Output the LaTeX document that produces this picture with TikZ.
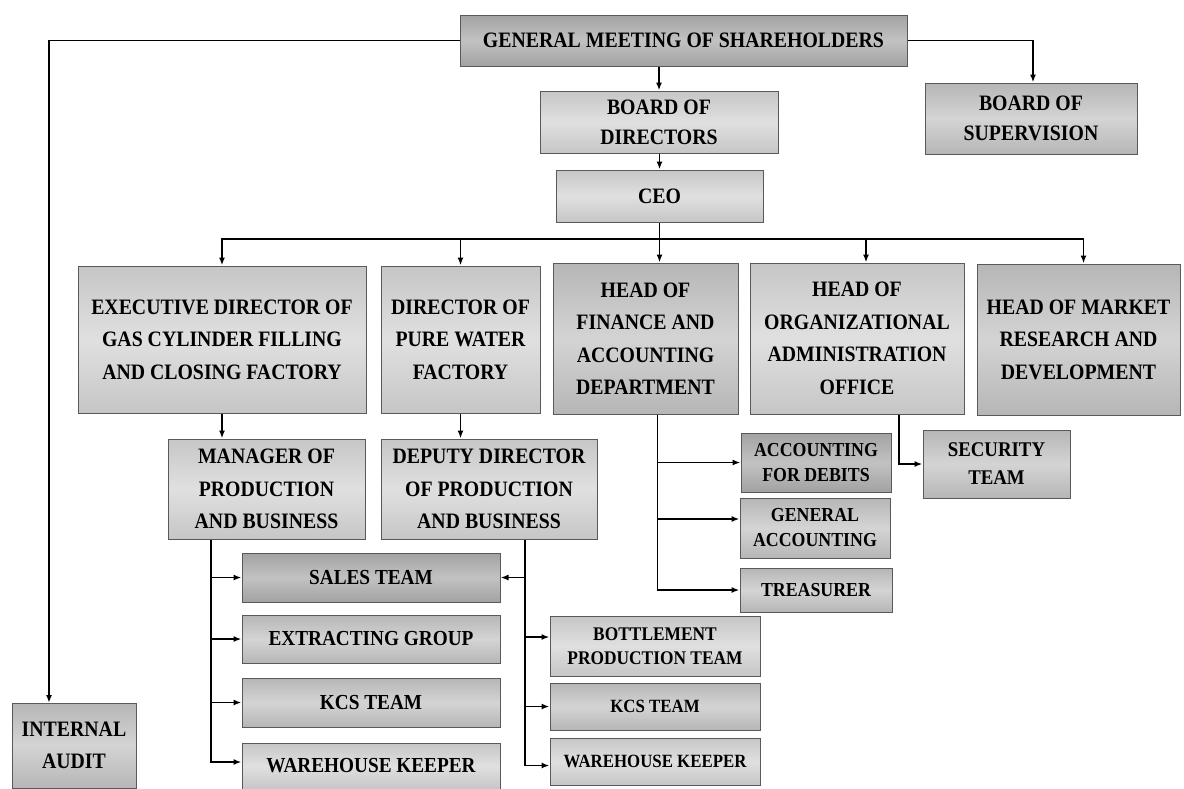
\documentclass[tikz,border=0pt]{standalone}
\usepackage{fontspec}
\setmainfont{Liberation Serif}[FakeStretch=0.9]
\usetikzlibrary{arrows.meta,calc}
\definecolor{lgA}{HTML}{C6C6C6}
\definecolor{lgB}{HTML}{E0E0E0}
\definecolor{mgA}{HTML}{B6B6B6}
\definecolor{mgB}{HTML}{D4D4D4}
\definecolor{dgA}{HTML}{A2A2A2}
\definecolor{dgB}{HTML}{C2C2C2}
\begin{document}
\begin{tikzpicture}[x=1pt,y=-1pt,
  base/.style={draw=black!65, line width=1pt, align=center, inner sep=0pt,
    font=\bfseries\fontsize{22}{32.5}\selectfont},
  light/.style={base, top color=lgA, bottom color=lgA, middle color=lgB},
  mid/.style={base, top color=mgA, bottom color=mgA, middle color=mgB},
  dark/.style={base, top color=dgA, bottom color=dgA, middle color=dgB},
  wh/.style n args={2}{minimum width=#1pt, minimum height=#2pt},
  small/.style={font=\bfseries\fontsize{19.8}{25}\selectfont},
  tiny/.style={font=\bfseries\fontsize{18.7}{24}\selectfont},
  team/.style={font=\bfseries\fontsize{21.4}{26}\selectfont},
  ln/.style={line width=1.6pt, black},
  arr/.style={ln, -{Latex[length=8pt,width=6pt]}}
]
\useasboundingbox (0,0) rectangle (1184,788);
\fill[white] (0,0) rectangle (1184,788);

% top
\node[dark, wh={447}{51}] (gms) at (683.5,40.5) {GENERAL MEETING OF SHAREHOLDERS};
\node[light, wh={238}{62}, font=\bfseries\fontsize{22}{30}\selectfont] (bod) at (659,122) {BOARD OF\\DIRECTORS};
\node[mid, wh={212}{71}, font=\bfseries\fontsize{22}{30}\selectfont] (bos) at (1031,118.5) {BOARD OF\\SUPERVISION};
\node[light, wh={207}{52}] (ceo) at (659.5,196) {CEO};

% row 1
\node[light, wh={288}{147}] (edgc) at (222,339.5) {EXECUTIVE DIRECTOR OF\\GAS CYLINDER FILLING\\AND CLOSING FACTORY};
\node[light, wh={159}{147}] (dpwf) at (460.5,339.5) {DIRECTOR OF\\PURE WATER\\FACTORY};
\node[mid, wh={185}{151}] (hfad) at (645.5,338.5) {HEAD OF\\FINANCE AND\\ACCOUNTING\\DEPARTMENT};
\node[light, wh={214}{151}] (hoao) at (857,338.5) {HEAD OF\\ORGANIZATIONAL\\ADMINISTRATION\\OFFICE};
\node[mid, wh={203}{151}] (hmrd) at (1078.5,339.5) {HEAD OF MARKET\\RESEARCH AND\\DEVELOPMENT};

% row 2
\node[light, wh={197}{100}] (mpb) at (266.5,489) {MANAGER OF\\PRODUCTION\\AND BUSINESS};
\node[light, wh={216}{100}] (ddpb) at (489,489) {DEPUTY DIRECTOR\\OF PRODUCTION\\AND BUSINESS};
\node[dark, wh={150}{59}, small] (acd) at (816,462.5) {ACCOUNTING\\FOR DEBITS};
\node[mid, wh={150}{60}, small] (ga) at (815,528) {GENERAL\\ACCOUNTING};
\node[mid, wh={152}{44}, small] (tr) at (816,590) {TREASURER};
\node[mid, wh={147}{68}, font=\bfseries\fontsize{20.9}{28}\selectfont] (sec) at (996.5,464) {SECURITY\\TEAM};

% teams left
\node[dark, wh={258}{49}, team] (sales) at (371,577.5) {SALES TEAM};
\node[mid, wh={258}{48}, team] (eg) at (371,639) {EXTRACTING GROUP};
\node[mid, wh={258}{49}, team] (kcsa) at (371,702.5) {KCS TEAM};
\node[light, wh={258}{46}, team] (wka) at (371,766) {WAREHOUSE KEEPER};

% teams right
\node[light, wh={210}{60}, font=\bfseries\fontsize{19.3}{24}\selectfont] (bpt) at (655,646) {BOTTLEMENT\\PRODUCTION TEAM};
\node[mid, wh={210}{47}, tiny] (kcsb) at (655,706.5) {KCS TEAM};
\node[light, wh={210}{47}, tiny] (wkb) at (655,761.5) {WAREHOUSE KEEPER};

\node[mid, wh={124}{85}, font=\bfseries\fontsize{22}{32}\selectfont] (ia) at (74,745.5) {INTERNAL\\AUDIT};

% connectors
\coordinate (iaL) at (49,703);
\draw[arr] (gms.west) -| (iaL);
\draw[arr] (gms.east) -| ([xshift=2pt]bos.north);
\draw[arr] (bod.north |- gms.south) -- (bod.north);
\draw[arr] (ceo.north |- bod.south) -- (ceo.north);

\coordinate (bus) at (0,239);
\draw[ln] (ceo.south) -- (ceo.south |- bus);
\draw[arr] (ceo.south |- bus) -| (edgc.north);
\draw[arr] (ceo.south |- bus) -| (dpwf.north);
\draw[arr] (ceo.south |- bus) -- ([xshift=14pt]hfad.north);
\draw[arr] (ceo.south |- bus) -| ([xshift=9pt]hoao.north);
\draw[arr] (ceo.south |- bus) -| ([xshift=5pt]hmrd.north);

\draw[arr] (edgc.south) -- (edgc.south |- mpb.north);
\draw[arr] (dpwf.south) -- (dpwf.south |- ddpb.north);

\coordinate (mb) at ([xshift=-55.5pt]mpb.south);
\draw[arr] (mb) |- (sales.west);
\draw[arr] (mb) |- (eg.west);
\draw[arr] (mb) |- (kcsa.west);
\draw[arr] (mb) |- ([yshift=4pt]wka.west);

\coordinate (db) at ([xshift=36pt]ddpb.south);
\draw[arr] (db) |- (sales.east);
\draw[arr] (db) |- ([yshift=9pt]bpt.west);
\draw[arr] (db) |- (kcsb.west);
\draw[arr] (db) |- ([yshift=-4pt]wkb.west);

\coordinate (fb) at ([xshift=12pt]hfad.south);
\draw[arr] (fb) |- (acd.west);
\draw[arr] (fb) |- ([yshift=9pt]ga.west);
\draw[arr] (fb) |- (tr.west);

\draw[arr] ([xshift=42pt]hoao.south) |- (sec.west);
\end{tikzpicture}
\end{document}
